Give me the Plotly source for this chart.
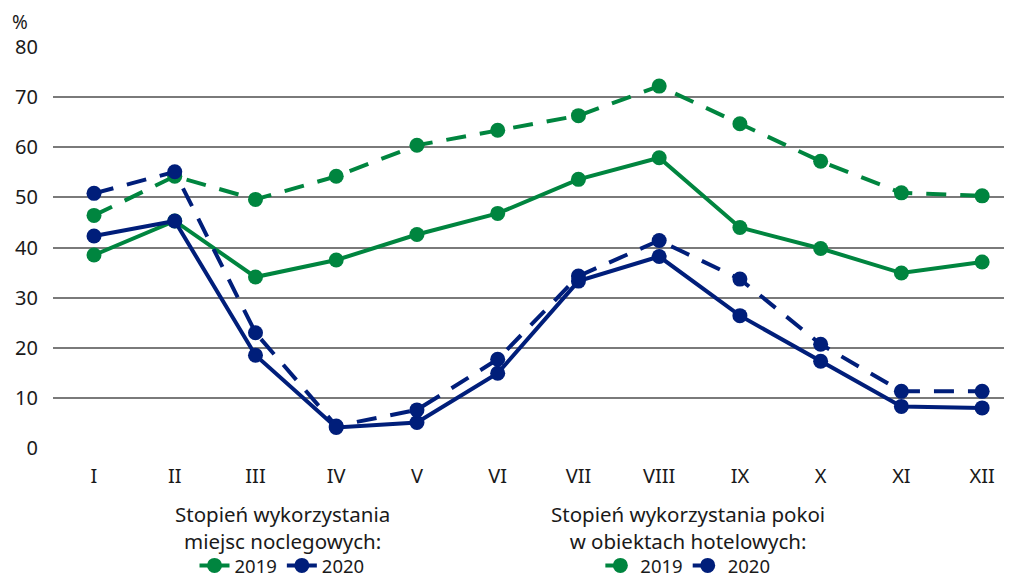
import plotly.graph_objects as go

months = ["I", "II", "III", "IV", "V", "VI", "VII", "VIII", "IX", "X", "XI", "XII"]
beds_2019 = [38.5, 45.3, 34.1, 37.5, 42.6, 46.8, 53.6, 57.9, 44.0, 39.8, 34.9, 37.1]
beds_2020 = [42.3, 45.3, 18.5, 4.1, 5.1, 14.9, 33.3, 38.2, 26.4, 17.3, 8.3, 8.0]
rooms_2019 = [46.4, 54.2, 49.6, 54.2, 60.4, 63.4, 66.3, 72.2, 64.7, 57.2, 50.9, 50.3]
rooms_2020 = [50.8, 55.1, 23.0, 4.4, 7.6, 17.7, 34.3, 41.4, 33.7, 20.7, 11.3, 11.3]
y_ticks = [0, 10, 20, 30, 40, 50, 60, 70, 80]

GREEN = "#00853f"
NAVY = "#001e7a"
FONT = "Noto Sans"
TXT = "#1a1a1a"
DASH = "20px,14px"

fig = go.Figure()
fig.add_trace(go.Scatter(x=months, y=beds_2019, name="2019", mode="lines+markers",
                         line=dict(color=GREEN, width=4), marker=dict(size=15, color=GREEN),
                         legend="legend", cliponaxis=False))
fig.add_trace(go.Scatter(x=months, y=beds_2020, name="2020", mode="lines+markers",
                         line=dict(color=NAVY, width=4), marker=dict(size=15, color=NAVY),
                         legend="legend", cliponaxis=False))
fig.add_trace(go.Scatter(x=months, y=rooms_2019, name="2019", mode="lines+markers",
                         line=dict(color=GREEN, width=4, dash=DASH), marker=dict(size=15, color=GREEN),
                         legend="legend2", cliponaxis=False))
fig.add_trace(go.Scatter(x=months, y=rooms_2020, name="2020", mode="lines+markers",
                         line=dict(color=NAVY, width=4, dash=DASH), marker=dict(size=15, color=NAVY),
                         legend="legend2", cliponaxis=False))

legend_common = dict(orientation="h", yanchor="middle", xanchor="center", y=-0.294,
                     font=dict(family=FONT, size=18.5, color=TXT),
                     bgcolor="rgba(0,0,0,0)", itemclick=False, itemdoubleclick=False)
fig.update_layout(
    width=1004, height=574,
    margin=dict(l=45, r=0, t=39, b=134, autoexpand=False),
    plot_bgcolor="white", paper_bgcolor="white",
    font=dict(family=FONT, size=20, color=TXT),
    showlegend=True,
    legend=dict(x=0.2388, **legend_common),
    legend2=dict(x=0.662, **legend_common),
    xaxis=dict(type="category", range=[-0.508, 11.37], showgrid=False, showline=False,
               ticks="", tickfont=dict(family=FONT, size=20, color=TXT), zeroline=False,
               ticklabelstandoff=14),
    yaxis=dict(range=[0, 80], tickvals=y_ticks, showgrid=True, gridcolor="#7a7a7a", gridwidth=1.6,
               zeroline=False, showline=False, ticks="", tickfont=dict(family=FONT, size=20, color=TXT),
               ticklabelstandoff=14),
    annotations=[
        dict(text="%", xref="paper", yref="paper", x=-0.0344, y=1.062, xanchor="center",
             yanchor="middle", showarrow=False, font=dict(family=FONT, size=19, color=TXT)),
        dict(text="Stopień wykorzystania<br>miejsc noclegowych:", xref="paper", yref="paper",
             x=0.2388, y=-0.198, xanchor="center", yanchor="middle", align="center", showarrow=False,
             font=dict(family=FONT, size=20.5, color=TXT)),
        dict(text="Stopień wykorzystania pokoi<br>w obiektach hotelowych:", xref="paper", yref="paper",
             x=0.662, y=-0.198, xanchor="center", yanchor="middle", align="center", showarrow=False,
             font=dict(family=FONT, size=20.5, color=TXT)),
    ],
)
fig.write_html("out.html")
